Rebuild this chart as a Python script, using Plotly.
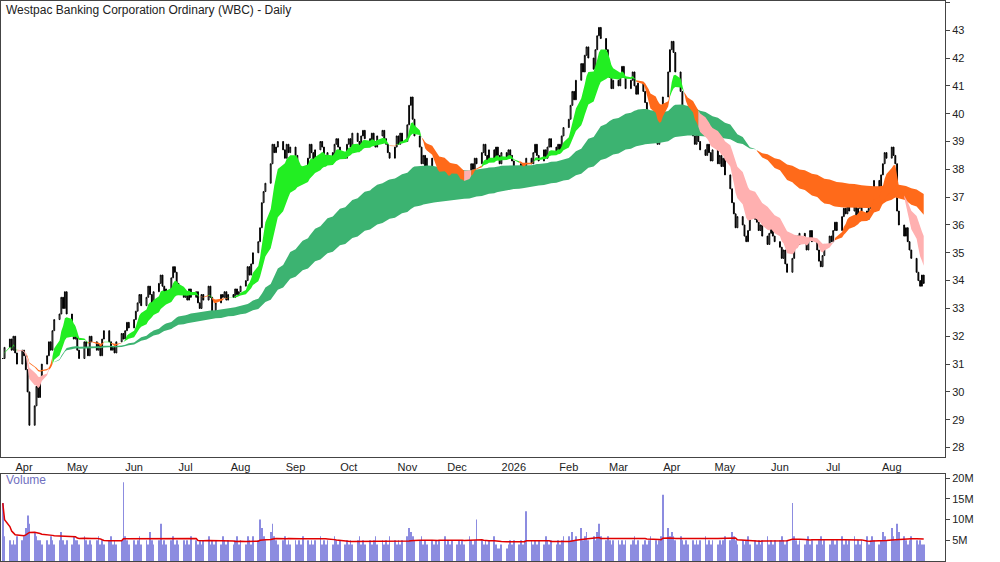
import pandas as pd
import numpy as np
import plotly.graph_objects as go
from plotly.subplots import make_subplots

# daily closes, month by month
c_mar25 = [31.2, 31.6, 31.9, 31.5, 32.0, 31.4, 31.0, 31.5]
c_apr25 = [31.3, 30.8, 30.0, 28.8, 29.5, 30.2, 29.8, 30.5, 31.0, 31.3, 31.8, 31.5, 32.2, 32.6, 32.8, 33.4, 33.0, 33.6, 32.8, 32.4, 31.9, 32.0]
c_may25 = [31.5, 31.2, 31.8, 31.6, 31.3, 32.0, 31.8, 31.5, 31.7, 31.3, 31.9, 32.2, 31.8, 31.5, 31.6, 31.4, 31.8, 32.1, 31.9, 32.2, 32.5, 32.3]
c_jun25 = [32.6, 32.9, 33.2, 33.5, 33.1, 33.4, 33.8, 33.5, 33.2, 33.6, 33.9, 34.2, 33.8, 33.5, 33.7, 34.1, 34.5, 34.3, 33.9, 33.6, 33.4]
c_jul25 = [33.5, 33.3, 33.7, 33.4, 33.6, 33.2, 33.0, 33.5, 33.3, 33.8, 33.4, 32.9, 32.7, 33.2, 33.5, 33.4, 33.6, 33.3, 33.5, 33.4, 33.7, 33.5, 33.6]
c_aug25 = [33.8, 34.0, 34.5, 34.2, 34.6, 35.0, 35.4, 35.9, 36.8, 37.2, 37.5, 38.2, 38.9, 38.6, 38.8, 39.0, 38.7, 38.4, 38.9, 38.6, 38.8]
c_sep25 = [38.5, 38.2, 37.8, 37.6, 38.0, 38.4, 38.9, 38.6, 38.3, 38.7, 39.0, 38.8, 38.5, 38.2, 38.6, 38.4, 38.9, 39.1, 38.8, 38.6, 38.4, 38.9]
c_oct25 = [39.1, 38.8, 39.3, 39.0, 38.7, 39.2, 39.4, 39.1, 38.9, 39.3, 39.0, 38.8, 39.2, 39.4, 39.1, 38.9, 38.6, 38.4, 38.8, 39.2, 38.9, 39.3, 39.0]
c_nov25 = [39.6, 40.3, 40.6, 39.8, 39.2, 38.8, 38.2, 38.5, 37.9, 38.4, 38.0, 37.6, 37.8, 37.3, 37.6, 38.0, 37.7, 37.4, 37.8, 38.1]
c_dec25 = [37.8, 37.5, 37.2, 37.6, 37.4, 37.9, 38.2, 38.0, 38.4, 38.2, 38.6, 38.9, 38.5, 38.3, 38.7, 38.4, 38.8, 38.5, 38.2, 38.6, 38.4, 38.7, 38.5]
c_jan26 = [38.3, 38.0, 37.8, 38.2, 37.7, 38.1, 38.4, 38.2, 38.6, 38.9, 38.5, 38.3, 38.7, 38.4, 38.8, 39.1, 38.8, 38.6, 38.9, 38.7, 39.2, 39.5]
c_feb26 = [39.8, 40.3, 40.8, 40.5, 41.2, 41.8, 41.5, 42.1, 42.4, 42.0, 41.6, 42.3, 42.8, 43.1, 42.7, 42.3, 41.8, 41.3, 40.9, 41.2]
c_mar26 = [41.0, 41.4, 41.7, 41.3, 40.9, 41.2, 41.5, 41.0, 40.7, 41.1, 40.8, 40.4, 40.0, 39.6, 39.2, 39.5, 38.9, 39.3, 39.8, 40.6, 41.5, 42.3]
c_apr26 = [42.6, 42.2, 41.5, 40.8, 40.2, 39.8, 39.4, 39.7, 39.2, 38.9, 39.3, 39.0, 38.7, 38.5, 38.9, 38.6, 38.3, 38.7, 38.2, 38.5, 38.1, 38.4]
c_may26 = [37.8, 37.3, 36.8, 36.4, 35.9, 36.3, 36.0, 35.6, 35.4, 35.8, 36.2, 36.5, 36.1, 35.8, 36.0, 35.6, 35.3, 35.7, 36.0, 35.6, 35.4]
c_jun26 = [35.2, 34.8, 35.1, 34.6, 34.3, 34.8, 35.2, 35.6, 35.3, 35.7, 35.4, 35.1, 35.5, 35.8, 35.4, 35.1, 34.7, 34.5, 34.9, 35.3, 35.6, 35.4]
c_jul26 = [35.8, 36.1, 35.8, 36.3, 36.6, 36.4, 36.8, 36.5, 36.7, 36.3, 36.6, 36.9, 36.5, 36.2, 36.6, 36.9, 37.3, 37.6, 37.2, 37.8, 38.2, 38.6, 38.4]
c_aug26 = [38.8, 38.5, 38.2, 36.5, 36.0, 35.6, 35.9, 35.4, 35.1, 34.8, 34.3, 34.0, 33.8, 34.2, 33.9]

# daily volume in millions
v_mar25 = [14, 6, 5, 4, 5, 4, 6, 5]
v_apr25 = [6, 8, 11, 9, 7, 6, 5, 5, 4, 5, 4, 6, 5, 4, 5, 7, 5, 4, 5, 4, 6, 5]
v_may25 = [5, 4, 6, 5, 4, 5, 4, 5, 6, 4, 5, 4, 5, 6, 4, 5, 4, 5, 19, 6, 5, 4]
v_jun25 = [5, 4, 5, 6, 4, 5, 4, 7, 5, 4, 5, 9, 4, 5, 4, 5, 6, 4, 5, 4, 5]
v_jul25 = [4, 5, 4, 6, 5, 4, 5, 4, 5, 6, 4, 5, 4, 5, 4, 6, 5, 4, 5, 4, 5, 6, 4]
v_aug25 = [5, 4, 6, 5, 4, 6, 5, 10, 8, 6, 5, 7, 9, 6, 5, 4, 5, 6, 4, 5, 4]
v_sep25 = [5, 4, 5, 4, 6, 5, 4, 5, 4, 5, 6, 4, 5, 4, 5, 4, 6, 5, 4, 5, 4, 5]
v_oct25 = [4, 5, 4, 5, 6, 4, 5, 4, 5, 4, 5, 6, 4, 5, 4, 5, 4, 6, 5, 4, 5, 4, 5]
v_nov25 = [6, 8, 7, 6, 5, 5, 6, 4, 5, 4, 5, 4, 5, 4, 5, 6, 4, 5, 4, 5]
v_dec25 = [4, 5, 4, 5, 4, 6, 5, 4, 5, 10, 5, 4, 5, 4, 5, 6, 4, 3, 3, 4, 3, 4, 5]
v_jan26 = [4, 5, 4, 5, 4, 5, 12, 5, 4, 5, 4, 5, 4, 6, 5, 4, 5, 4, 5, 4, 5, 6]
v_feb26 = [6, 5, 7, 5, 6, 8, 5, 6, 7, 5, 6, 5, 7, 9, 6, 5, 6, 5, 4, 5]
v_mar26 = [5, 4, 5, 4, 5, 4, 5, 6, 4, 5, 4, 5, 4, 5, 6, 5, 4, 5, 6, 16, 8, 6]
v_apr26 = [7, 6, 5, 6, 5, 4, 5, 4, 5, 4, 5, 4, 5, 6, 4, 5, 4, 5, 4, 5, 4, 5]
v_may26 = [6, 5, 7, 6, 5, 4, 5, 4, 5, 6, 4, 5, 4, 5, 4, 5, 6, 4, 5, 4, 5]
v_jun26 = [5, 6, 5, 4, 5, 14, 6, 5, 4, 5, 4, 5, 6, 4, 5, 4, 5, 6, 4, 5, 4, 5]
v_jul26 = [5, 4, 5, 6, 4, 5, 4, 5, 6, 4, 5, 4, 5, 6, 4, 5, 6, 5, 4, 5, 7, 6, 5]
v_aug26 = [8, 6, 5, 9, 7, 6, 5, 4, 5, 6, 5, 4, 5, 4, 4]

tick_dates = ['2025-04-01', '2025-05-01', '2025-06-02', '2025-07-01', '2025-08-01', '2025-09-01',
              '2025-10-01', '2025-11-03', '2025-12-01', '2026-01-02', '2026-02-02', '2026-03-02',
              '2026-04-01', '2026-05-01', '2026-06-01', '2026-07-01', '2026-08-03']
tick_text = ['Apr', 'May', 'Jun', 'Jul', 'Aug', 'Sep', 'Oct', 'Nov', 'Dec', '2026',
             'Feb', 'Mar', 'Apr', 'May', 'Jun', 'Jul', 'Aug']

closes = (c_mar25 + c_apr25 + c_may25 + c_jun25 + c_jul25 + c_aug25 + c_sep25 + c_oct25 + c_nov25
          + c_dec25 + c_jan26 + c_feb26 + c_mar26 + c_apr26 + c_may26 + c_jun26 + c_jul26 + c_aug26)
vols = (v_mar25 + v_apr25 + v_may25 + v_jun25 + v_jul25 + v_aug25 + v_sep25 + v_oct25 + v_nov25
        + v_dec25 + v_jan26 + v_feb26 + v_mar26 + v_apr26 + v_may26 + v_jun26 + v_jul26 + v_aug26)
n = min(len(closes), len(vols))
closes = closes[:n]
vols = vols[:n]

dates = pd.bdate_range('2025-03-20', periods=n)
df = pd.DataFrame({'close': closes, 'vol': vols}, index=dates)
df['open'] = df['close'].shift(1).fillna(df['close'])
df['high'] = df[['open', 'close']].max(axis=1)
df['low'] = df[['open', 'close']].min(axis=1)

# moving average ribbons (slow, like the reference)
ema_f1 = df['close'].ewm(span=8).mean()
ema_f2 = df['close'].ewm(span=22).mean()
ema_s1 = df['close'].ewm(span=70).mean()
ema_s2 = df['close'].ewm(span=160).mean()
s_hi = np.maximum(ema_f1, ema_f2)
s_lo = np.minimum(ema_f1, ema_f2)
l_hi = np.maximum(ema_s1, ema_s2)
l_lo = np.minimum(ema_s1, ema_s2)

long_col = np.where(ema_s1 >= ema_s2, '#3cb371', '#ff6a1a')
short_col = []
for i in range(n):
    if ema_f1.iloc[i] >= ema_f2.iloc[i] and s_lo.iloc[i] >= l_hi.iloc[i] - 0.05:
        short_col.append('#22ee22')
    elif ema_f1.iloc[i] < ema_f2.iloc[i] and s_hi.iloc[i] < l_hi.iloc[i]:
        short_col.append('#ffb0b0')
    else:
        short_col.append('#ff6a1a')


def add_band(fig, hi, lo, cols):
    start = 0
    for i in range(1, n + 1):
        if i == n or cols[i] != cols[start]:
            end = min(i, n - 1)
            xs = list(dates[start:end + 1])
            ys = list(hi.iloc[start:end + 1]) + list(lo.iloc[start:end + 1])[::-1]
            fig.add_trace(go.Scatter(x=xs + xs[::-1], y=ys, fill='toself', fillcolor=cols[start],
                                     line=dict(width=0), mode='lines', hoverinfo='skip',
                                     showlegend=False), row=1, col=1)
            start = i


fig = make_subplots(rows=2, cols=1, shared_xaxes=True, vertical_spacing=0.03,
                    row_heights=[0.84, 0.16])
add_band(fig, l_hi, l_lo, list(long_col))
add_band(fig, s_hi, s_lo, short_col)

fig.add_trace(go.Candlestick(x=dates, open=df['open'], high=df['high'], low=df['low'], close=df['close'],
                             increasing=dict(line=dict(color='black', width=1), fillcolor='white'),
                             decreasing=dict(line=dict(color='black', width=1), fillcolor='black'),
                             whiskerwidth=0, showlegend=False), row=1, col=1)

fig.add_trace(go.Bar(x=dates, y=df['vol'], marker=dict(color='#8c8ce0', line=dict(width=0)),
                     width=1000 * 3600 * 24 * 0.45, showlegend=False), row=2, col=1)
fig.add_trace(go.Scatter(x=dates, y=df['vol'].rolling(30, min_periods=1).mean(), mode='lines',
                         line=dict(color='#e00000', width=1.5), showlegend=False), row=2, col=1)

xr = [dates[0] - pd.Timedelta(days=1), dates[-1] + pd.Timedelta(days=12)]
fig.update_xaxes(range=xr, rangeslider_visible=False, showgrid=False, showline=True, mirror=True,
                 linecolor='#444', ticks='', tickvals=tick_dates, ticktext=tick_text,
                 tickfont=dict(size=11, color='#222'))
fig.update_xaxes(showticklabels=True, row=1, col=1)
fig.update_xaxes(showticklabels=False, row=2, col=1)
fig.update_yaxes(side='right', showgrid=False, showline=True, mirror=True, linecolor='#444',
                 ticks='outside', ticklen=4, tickfont=dict(size=11, color='#222'))
fig.update_yaxes(range=[27.65, 44.05], dtick=1, row=1, col=1)
fig.update_yaxes(range=[0, 21], tickvals=[5, 10, 15, 20], ticktext=['5M', '10M', '15M', '20M'], row=2, col=1)

fig.update_layout(
    width=1000, height=562, margin=dict(l=1, r=55, t=1, b=1, autoexpand=False),
    plot_bgcolor='white', paper_bgcolor='white',
    font=dict(family='Liberation Sans, Arial', size=11),
    annotations=[
        dict(text='Westpac Banking Corporation Ordinary (WBC) - Daily', xref='paper', yref='paper',
             x=0.003, y=1.0, xanchor='left', yanchor='top', showarrow=False,
             font=dict(size=12, color='#222')),
        dict(text='Volume', xref='paper', yref='paper', x=0.003, y=0.16, xanchor='left',
             yanchor='top', showarrow=False, font=dict(size=12, color='#7070c0')),
    ],
)
fig.write_html('out.html', config={'displayModeBar': False},
               post_script="document.body.style.margin='0';")
